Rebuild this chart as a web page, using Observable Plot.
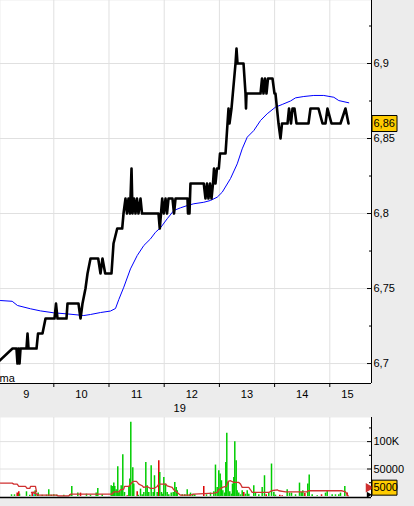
<!DOCTYPE html>
<html><head><meta charset="utf-8">
<script src="https://cdn.jsdelivr.net/npm/d3@7"></script>
<script src="https://cdn.jsdelivr.net/npm/@observablehq/plot@0.6"></script>
<style>
html,body{margin:0;padding:0;background:#ececec;}
#chart{width:414px;height:506px;overflow:hidden;background:#ececec;}
#chart svg{display:block;}
</style></head><body><div id="chart"></div>
<script>
// ---- price (tick line), time in decimal days ----
const priceT = [8.962,9.252,9.324,9.342,9.361,9.379,9.397,9.505,9.524,9.542,
9.687,9.714,9.795,9.850,10.013,10.040,10.067,10.230,10.248,10.447,
10.484,10.520,10.574,10.611,10.665,10.804,10.846,10.882,10.931,11.045,
11.082,11.149,11.239,11.263,11.299,11.326,11.353,11.380,11.408,11.426,
11.453,11.480,11.507,11.534,11.571,11.598,11.897,11.920,11.964,11.993,
12.024,12.051,12.078,12.150,12.178,12.205,12.422,12.431,12.449,12.458,
12.476,12.717,12.748,12.775,12.802,12.830,12.857,12.884,12.902,12.929,
12.956,12.989,13.011,13.111,13.129,13.165,13.183,13.219,13.292,13.310,
13.328,13.437,13.473,13.482,13.491,13.745,13.772,13.799,13.826,13.853,
13.880,13.962,13.998,14.016,14.071,14.107,14.134,14.234,14.261,14.297,
14.324,14.360,14.397,14.614,14.650,14.795,14.868,14.922,14.958,15.031,
15.194,15.284,15.339];
const priceV = [6.70,6.71,6.71,6.70,6.71,6.70,6.71,6.71,6.72,6.71,
6.71,6.72,6.72,6.73,6.73,6.74,6.73,6.73,6.74,6.74,
6.73,6.74,6.75,6.76,6.77,6.77,6.76,6.77,6.76,6.76,
6.78,6.79,6.79,6.80,6.81,6.80,6.81,6.80,6.83,6.80,
6.81,6.80,6.81,6.80,6.81,6.80,6.80,6.79,6.81,6.80,
6.81,6.80,6.81,6.81,6.80,6.81,6.81,6.80,6.81,6.80,
6.82,6.82,6.81,6.82,6.81,6.82,6.81,6.82,6.83,6.82,
6.83,6.83,6.84,6.84,6.85,6.87,6.86,6.87,6.90,6.91,
6.90,6.90,6.88,6.87,6.88,6.88,6.89,6.88,6.89,6.88,
6.89,6.89,6.88,6.88,6.86,6.85,6.86,6.86,6.87,6.86,
6.87,6.87,6.86,6.86,6.87,6.87,6.86,6.86,6.87,6.86,
6.86,6.87,6.86];
// ---- moving average (blue) ----
const maT = [9.034,9.246,9.342,9.578,9.759,10.000,10.243,10.543,10.665,10.846,
11.027,11.118,11.178,11.268,11.389,11.511,11.631,11.752,11.842,11.933,
12.054,12.174,12.295,12.417,12.536,12.717,12.839,12.960,13.051,13.201,
13.323,13.413,13.504,13.623,13.745,13.866,14.016,14.138,14.288,14.379,
14.529,14.710,14.891,15.073,15.163,15.344];
const maV = [6.742,6.7415,6.7387,6.7365,6.7351,6.7338,6.7331,6.732,6.7327,6.734,
6.735,6.7367,6.7427,6.7509,6.7631,6.772,6.7787,6.7831,6.7875,6.7905,
6.7965,6.802,6.8038,6.8053,6.8065,6.8075,6.8087,6.8109,6.8142,6.8233,
6.8331,6.8431,6.8509,6.8553,6.862,6.8665,6.8709,6.8727,6.875,6.8771,
6.878,6.8787,6.8787,6.8775,6.8753,6.8738];
// ---- volume bars (thousands) ----
const volT = [9.234,9.288,9.337,9.366,9.379,9.505,9.565,9.609,9.638,9.663,
9.699,9.717,9.790,9.868,9.909,9.953,10.000,10.049,10.181,10.290,
10.326,10.435,10.484,10.592,10.665,10.768,10.797,10.877,11.040,11.069,
11.087,11.105,11.130,11.159,11.178,11.196,11.221,11.250,11.281,11.330,
11.359,11.377,11.395,11.431,11.449,11.511,11.529,11.571,11.601,11.631,
11.667,11.692,11.721,11.764,11.801,11.824,11.873,11.902,11.920,11.951,
11.975,11.993,12.024,12.054,12.083,12.127,12.163,12.192,12.218,12.236,
12.326,12.373,12.417,12.458,12.477,12.518,12.554,12.717,12.766,12.839,
12.899,12.929,12.960,12.989,13.014,13.038,13.062,13.098,13.116,13.134,
13.159,13.188,13.219,13.237,13.261,13.279,13.304,13.322,13.351,13.382,
13.413,13.442,13.473,13.504,13.533,13.623,13.654,13.714,13.775,13.817,
13.848,13.895,13.944,13.986,14.016,14.094,14.138,14.228,14.270,14.306,
14.379,14.451,14.482,14.511,14.548,14.601,14.627,14.681,14.772,14.850,
14.922,14.953,15.043,15.103,15.163,15.194,15.272,15.315];
const volK = [2.9,2.9,6.0,8.4,4.1,8.4,2.3,6.0,2.9,10.3,
4.1,6.0,2.3,2.3,12.1,2.3,2.9,2.3,2.3,2.9,
18.2,6.0,6.0,4.1,2.3,6.0,14.5,2.9,19.4,18.2,
24.3,18.2,12.1,54.2,6.0,8.4,19.4,76.2,7.2,1.1,
18.2,31.6,135.4,52.4,22.5,8.4,2.3,13.3,2.9,7.2,
62.1,19.4,7.2,56.0,7.2,37.7,7.2,65.2,43.8,7.2,
4.1,34.7,22.5,7.2,2.9,6.0,7.2,25.5,16.4,10.3,
2.9,2.9,12.1,2.9,6.0,4.1,2.9,18.2,2.9,6.0,
8.4,57.2,16.4,46.9,40.8,28.6,10.3,6.0,62.1,115.2,
25.5,8.4,4.1,22.5,34.7,99.9,65.2,10.3,6.0,2.9,
10.3,7.2,4.1,10.3,4.1,19.4,7.2,2.9,16.4,37.7,
2.9,6.0,59.1,7.2,2.3,2.3,1.1,12.1,6.0,6.0,
2.9,24.3,7.2,10.3,5.4,22.5,38.9,2.9,1.1,2.9,
6.0,10.3,2.9,2.9,2.9,6.0,18.2,6.0];
const volSide = ("ggrrgggrcg"+"rggggggggg"+"ggrggggggg"+"gggggggggr"+"gggggrgggg"+
"gggggggrgg"+"gggggggggg"+"gggggggrgg"+"gggggggggg"+"gggggggggg"+
"grgggggggg"+"rggggrrggg"+"ggggrggggr"+"gggggggr").split("");
// ---- volume moving average (red) ----
const volMaT = [9.034,9.246,9.275,9.337,9.366,9.487,9.518,9.565,9.578,9.668,
9.687,9.596,9.699,9.728,10.062,10.073,10.272,10.303,11.058,11.087,
11.178,11.208,11.268,11.281,11.359,11.389,11.438,11.498,11.540,11.601,
11.631,11.692,11.752,11.812,11.873,11.902,12.024,12.054,12.145,12.174,
12.236,12.295,12.477,12.536,12.899,12.960,12.989,13.051,13.123,13.159,
13.201,13.261,13.351,13.382,13.413,13.533,13.563,13.594,13.895,13.944,
14.047,14.076,14.198,14.590,14.609,15.224,15.284,15.333];
const volMaK = [24.3,24.3,22.5,22.5,18.2,18.2,14.5,14.5,18.2,18.2,
8.4,7.2,4.1,2.3,2.3,1.1,1.1,4.1,4.1,8.4,
8.4,12.1,13.3,18.2,18.2,22.5,27.3,27.3,22.5,19.4,
16.4,18.2,14.5,14.5,18.2,22.5,22.5,19.4,16.4,12.1,
7.2,2.3,2.3,4.1,6.0,7.2,12.1,16.4,18.2,27.3,
28.6,25.5,25.5,22.5,16.4,16.4,12.1,7.2,7.2,10.3,
12.1,10.3,8.4,8.4,10.3,10.3,8.4,1.1];
// ---- ticks & labels ----
const dayStarts = [10,11,12,13,14,15];
const dayLabelT = [9.5,10.5,11.5,12.5,13.5,14.5,15.32];
const dayLabels = ["9","10","11","12","13","14","15"];
const monthLabel = "19", monthT = 12.28;
const legendText = "ma";
const priceTicks = [6.7,6.75,6.8,6.85,6.9];
const priceMinor = [6.725,6.775,6.825,6.875,6.925];
const volTicksK = [50,100];
const volTickLabels = ["50000","100K"];
const volMinorK = [25,75,125];
const lastPrice = 6.86, lastPriceLabel = "6,86";
const lastVolK = 5, lastVolLabel = "5000";

const xDomain = [9.0344, 15.7555];
const yDomain = [6.6867, 6.942];
const vDomain = [-2, 144];

const priceData = priceT.map((t,i)=>({t, v: priceV[i]}));
const maData = maT.map((t,i)=>({t, v: maV[i]}));
const volData = volT.map((t,i)=>({t, v: volK[i], s: volSide[i]}));
const volMaData = volMaT.map((t,i)=>({t, v: volMaK[i]}));
const sideColor = {g:"#00cc00", r:"#dd0000", c:"#00c8e0"};

const rectSymbol = (w,h)=>({draw(ctx){ctx.rect(-w/2,-h/2,w,h);}});
const font = {background:"#ececec", fontFamily:"'Liberation Sans', Arial, sans-serif", fontSize:"11px", color:"black", overflow:"visible"};
const gridColor = "#e0e0e0";

const main = Plot.plot({
  width: 414, height: 417, marginTop: 0, marginLeft: 0, marginRight: 43, marginBottom: 34,
  style: font,
  x: {domain: xDomain, axis: null},
  y: {domain: yDomain, axis: null},
  marks: [
    Plot.frame({fill: "white", stroke: null}),
    Plot.gridY(priceTicks, {stroke: gridColor, strokeOpacity: 1}),
    Plot.gridX(dayStarts, {stroke: gridColor, strokeOpacity: 1}),
    Plot.line(maData, {x: "t", y: "v", stroke: "#0000ff", strokeWidth: 1, clip: true}),
    Plot.line(priceData, {x: "t", y: "v", stroke: "black", strokeWidth: 2.6, clip: true}),
    Plot.ruleX([xDomain[1]], {stroke: "black"}),
    Plot.ruleY([yDomain[0]], {stroke: "black"}),
    Plot.axisY(priceTicks, {anchor: "right", tickSize: 5, dx: -5, tickFormat: () => "", label: null}),
    Plot.axisY(priceMinor, {anchor: "right", tickSize: 3, dx: -3, tickFormat: () => "", label: null}),
    Plot.axisY(priceTicks, {anchor: "right", tickSize: 0, tickPadding: 2, tickFormat: d => String(d).replace(".", ","), label: null}),
    Plot.axisX(dayStarts, {anchor: "bottom", tickSize: 4, tickFormat: () => "", label: null}),
    Plot.axisX(dayLabelT, {anchor: "bottom", tickSize: 0, tickPadding: 7, tickFormat: d => dayLabels[dayLabelT.indexOf(d)], label: null}),
    Plot.text([monthLabel], {x: () => monthT, text: d => d, frameAnchor: "bottom", lineAnchor: "middle", dy: 25}),
    Plot.text([legendText], {text: d => d, frameAnchor: "bottom-left", textAnchor: "start", lineAnchor: "bottom", dx: -1, dy: -2}),
    Plot.dot([lastPrice], {y: d => d, frameAnchor: "right", dx: 13, symbol: rectSymbol(25, 16), fill: "#ffcc00", stroke: "black", strokeWidth: 1}),
    Plot.text([lastPrice], {y: d => d, text: () => lastPriceLabel, frameAnchor: "right", textAnchor: "start", dx: 2})
  ]
});

const vol = Plot.plot({
  width: 414, height: 89, marginTop: 0, marginLeft: 0, marginRight: 43, marginBottom: 9,
  style: font,
  x: {domain: xDomain, axis: null},
  y: {domain: vDomain, axis: null},
  marks: [
    Plot.frame({fill: "white", stroke: null}),
    Plot.gridY(volTicksK, {stroke: gridColor, strokeOpacity: 1}),
    Plot.gridX(dayStarts, {stroke: gridColor, strokeOpacity: 1}),
    Plot.ruleX(volData, {x: "t", y1: 0, y2: "v", stroke: d => sideColor[d.s], strokeWidth: 1.5}),
    Plot.line(volMaData, {x: "t", y: "v", stroke: "#d03030", strokeWidth: 1.3}),
    Plot.ruleX([xDomain[1]], {stroke: "black"}),
    Plot.ruleY([vDomain[0]], {stroke: "black", strokeWidth: 1.5}),
    Plot.axisY(volTicksK, {anchor: "right", tickSize: 5, dx: -5, tickFormat: () => "", label: null}),
    Plot.axisY(volMinorK, {anchor: "right", tickSize: 3, dx: -3, tickFormat: () => "", label: null}),
    Plot.axisY(volTicksK, {anchor: "right", tickSize: 0, tickPadding: 2, tickFormat: d => volTickLabels[volTicksK.indexOf(d)], label: null}),
    Plot.dot([lastVolK], {y: d => d, frameAnchor: "right", dx: -3, dy: -6, symbol: "triangle", rotate: 90, r: 3.5, fill: "#d03030", stroke: null}),
    Plot.dot([lastVolK], {y: d => d, frameAnchor: "right", dx: -3, dy: 1, symbol: "triangle", rotate: 90, r: 2.2, fill: "black", stroke: null}),
    Plot.dot([lastVolK], {y: d => d, frameAnchor: "right", dx: 13, dy: -6, symbol: rectSymbol(25, 15), fill: "#ffcc00", stroke: "black", strokeWidth: 1}),
    Plot.text([lastVolK], {y: d => d, text: () => lastVolLabel, frameAnchor: "right", textAnchor: "start", dx: 2, dy: -6})
  ]
});

const root = document.getElementById("chart");
root.appendChild(main);
root.appendChild(vol);
</script></body></html>
